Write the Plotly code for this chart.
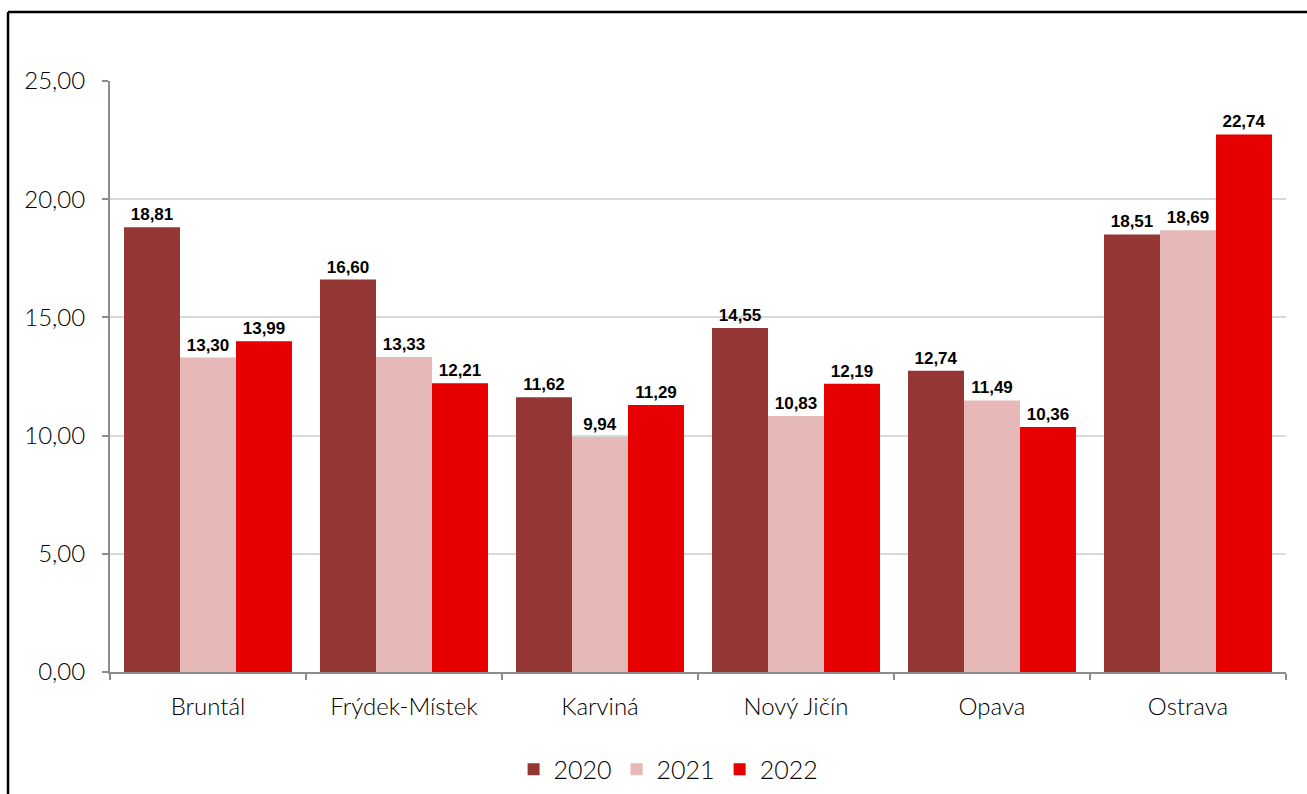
import plotly.graph_objects as go

categories = ["Bruntál", "Frýdek-Místek", "Karviná", "Nový Jičín", "Opava", "Ostrava"]
years = ["2020", "2021", "2022"]
v2020 = [18.81, 16.60, 11.62, 14.55, 12.74, 18.51]
v2021 = [13.30, 13.33, 9.94, 10.83, 11.49, 18.69]
v2022 = [13.99, 12.21, 11.29, 12.19, 10.36, 22.74]
colors = ["#943634", "#E6B9B8", "#E60000"]

font_main = "Century Gothic, URW Gothic, Lato, DejaVu Sans, sans-serif"
font_lbl = "Century Gothic, Liberation Sans, Arial, sans-serif"

fig = go.Figure()
for name, vals, col in zip(years, [v2020, v2021, v2022], colors):
    fig.add_trace(go.Bar(
        x=categories, y=vals, name=name,
        marker=dict(color=col, line=dict(width=0)),
        text=[f"{v:.2f}".replace(".", ",") for v in vals],
        texttemplate="<b>%{text}</b>",
        textposition="outside",
        textfont=dict(family=font_lbl, size=17, color="#000000"),
        cliponaxis=False,
    ))

fig.update_layout(
    width=1307, height=794,
    barmode="group", bargap=0.143, bargroupgap=0,
    separators=", ",
    paper_bgcolor="white", plot_bgcolor="white",
    margin=dict(l=110, r=21, t=81, b=122, autoexpand=False),
    font=dict(family=font_main, size=21, color="#000000"),
    showlegend=True,
    legend=dict(orientation="h", x=0.475, xanchor="center",
                yref="container", y=0.031, yanchor="middle",
                font=dict(family=font_main, size=25, weight=300), itemwidth=30,
                traceorder="normal", tracegroupgap=0),
    xaxis=dict(showline=True, linecolor="#8c8c8c", linewidth=2, ticks="outside",
               tickson="boundaries", ticklen=6, tickcolor="#8c8c8c", tickwidth=2,
               ticklabelstandoff=12,
               tickfont=dict(family=font_main, size=24, weight=300), showgrid=False),
    yaxis=dict(range=[0, 25], dtick=5, tickformat=".2f", showline=True,
               linecolor="#8c8c8c", linewidth=2, ticks="outside", ticklen=6,
               tickcolor="#8c8c8c", tickwidth=2, gridcolor="#d9d9d9", gridwidth=2,
               ticklabelstandoff=12,
               zeroline=False, tickfont=dict(family=font_main, size=24, weight=300)),
    shapes=[
        dict(type="line", xref="paper", yref="paper", x0=-0.0867, x1=1.02, y0=1.1168, y1=1.1168,
             line=dict(color="black", width=2.5)),
        dict(type="line", xref="paper", yref="paper", x0=-0.0867, x1=-0.0867, y0=1.1168, y1=-0.3,
             line=dict(color="black", width=2.5)),
    ],
)

fig.write_html("out.html", config={"displayModeBar": False},
               post_script="document.body.style.margin='0';")
